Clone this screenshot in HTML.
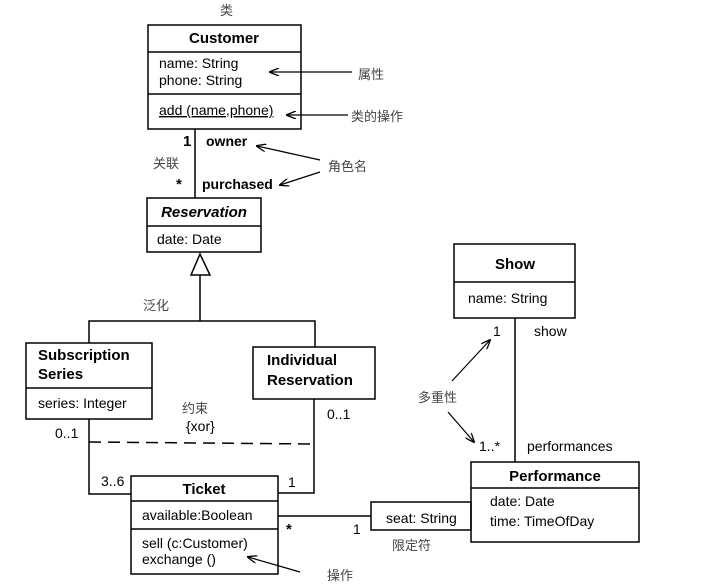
<!DOCTYPE html>
<html><head><meta charset="utf-8"><style>
body{margin:0;background:#fff}
svg{display:block}
text{font-family:"Liberation Sans","Noto Sans CJK SC",sans-serif;font-size:14px;fill:#000}
.b{font-weight:bold;font-size:15px}
.c{font-family:"Noto Sans CJK SC","WenQuanYi Zen Hei",sans-serif;font-size:13px;fill:#444}
</style></head><body>
<svg width="711" height="586" viewBox="0 0 711 586" xmlns="http://www.w3.org/2000/svg">
<defs><marker id="a" markerWidth="10" markerHeight="8" refX="9" refY="4" orient="auto" markerUnits="userSpaceOnUse"><path d="M0,0 L10,4 L0,8" fill="none" stroke="#000" stroke-width="1.3"/></marker></defs>
<g fill="none" stroke="#000" stroke-width="1.5">
<rect x="148" y="25" width="153" height="104"/><line x1="148" y1="52" x2="301" y2="52"/><line x1="148" y1="94" x2="301" y2="94"/>
<rect x="147" y="198" width="114" height="54"/><line x1="147" y1="226" x2="261" y2="226"/>
<line x1="195" y1="129" x2="195" y2="198"/>
<path d="M200,254 L191,275 L210,275 Z"/>
<path d="M200,275 V321 M89,343 V321 H315 V347"/>
<rect x="26" y="343" width="126" height="76"/><line x1="26" y1="388" x2="152" y2="388"/>
<rect x="253" y="347" width="122" height="52"/>
<path d="M89,419 V494 H131 M314,399 V493 H278"/>
<line x1="89" y1="442" x2="314" y2="444" stroke-dasharray="12,7"/>
<rect x="131" y="476" width="147" height="98"/><line x1="131" y1="501" x2="278" y2="501"/><line x1="131" y1="529" x2="278" y2="529"/>
<line x1="278" y1="516" x2="371" y2="516"/>
<rect x="371" y="502" width="100" height="28"/>
<rect x="471" y="462" width="168" height="80"/><line x1="471" y1="488" x2="639" y2="488"/>
<rect x="454" y="244" width="121" height="74"/><line x1="454" y1="282" x2="575" y2="282"/>
<line x1="515" y1="318" x2="515" y2="462"/>
</g>
<g stroke="#000" stroke-width="1.2" marker-end="url(#a)">
<line x1="352" y1="72" x2="270" y2="72"/>
<line x1="348" y1="115" x2="287" y2="115"/>
<line x1="320" y1="160" x2="257" y2="146"/>
<line x1="320" y1="172" x2="280" y2="185"/>
<line x1="452" y1="381" x2="490" y2="340"/>
<line x1="448" y1="412" x2="474" y2="442"/>
<line x1="300" y1="572" x2="248" y2="557"/>
</g>
<text class="c" x="220" y="15">类</text>
<text class="b" x="224" y="43" text-anchor="middle">Customer</text>
<text x="159" y="68">name: String</text>
<text x="159" y="85">phone: String</text>
<text x="159" y="115" text-decoration="underline">add (name,phone)</text>
<text class="c" x="358" y="79">属性</text>
<text class="c" x="351" y="121">类的操作</text>
<text class="b" x="183" y="146" font-size="14">1</text>
<text x="206" y="146" font-weight="bold" font-size="14">owner</text>
<text class="c" x="153" y="168">关联</text>
<text class="b" x="176" y="189">*</text>
<text x="202" y="189" font-weight="bold" font-size="14">purchased</text>
<text class="c" x="328" y="171">角色名</text>
<text class="b" x="204" y="217" text-anchor="middle" font-style="italic">Reservation</text>
<text x="157" y="244">date: Date</text>
<text class="c" x="143" y="310">泛化</text>
<text class="b" x="38" y="360">Subscription</text>
<text class="b" x="38" y="379">Series</text>
<text x="38" y="408">series: Integer</text>
<text class="b" x="267" y="365">Individual</text>
<text class="b" x="267" y="385">Reservation</text>
<text class="c" x="182" y="413">约束</text>
<text x="186" y="431">{xor}</text>
<text x="55" y="438">0..1</text>
<text x="327" y="419">0..1</text>
<text x="101" y="486">3..6</text>
<text x="288" y="487">1</text>
<text class="b" x="204" y="494" text-anchor="middle">Ticket</text>
<text x="142" y="520">available:Boolean</text>
<text x="142" y="548">sell (c:Customer)</text>
<text x="142" y="564">exchange ()</text>
<text class="b" x="286" y="534">*</text>
<text x="353" y="534">1</text>
<text x="386" y="523">seat: String</text>
<text class="c" x="392" y="550">限定符</text>
<text class="c" x="327" y="580">操作</text>
<text class="b" x="555" y="481" text-anchor="middle">Performance</text>
<text x="490" y="506">date: Date</text>
<text x="490" y="526">time: TimeOfDay</text>
<text class="b" x="515" y="269" text-anchor="middle">Show</text>
<text x="468" y="303">name: String</text>
<text x="493" y="336">1</text>
<text x="534" y="336">show</text>
<text class="c" x="418" y="402">多重性</text>
<text x="479" y="451">1..*</text>
<text x="527" y="451">performances</text>
</svg>
</body></html>
